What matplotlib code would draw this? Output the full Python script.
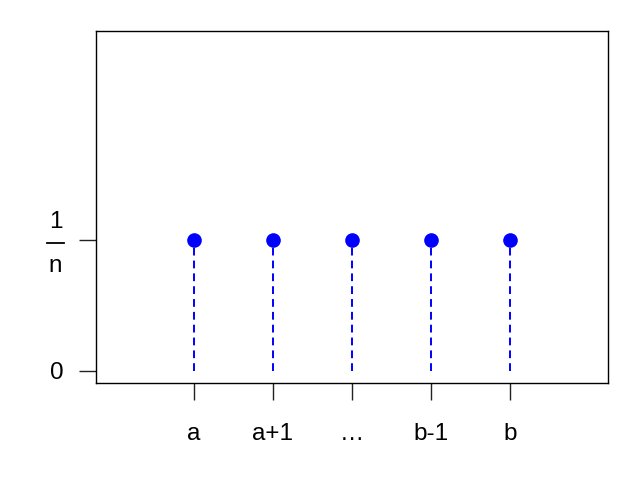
import matplotlib
matplotlib.use('Agg')
import matplotlib.pyplot as plt
from matplotlib.transforms import blended_transform_factory

# discrete uniform pmf on a, a+1, ..., b
positions = [1, 2, 3, 4, 5]
probs = [1, 1, 1, 1, 1]
x_labels = ['a', 'a+1', '…', 'b-1', 'b']
y_ticks = [0, 1]
y_labels = ['0', '']  # the 1/n label is drawn by hand below

plt.rcParams['font.family'] = ['Liberation Sans', 'DejaVu Sans']

fig = plt.figure(figsize=(6.4, 4.8), dpi=100)
ax = fig.add_axes([0.15, 0.2021, 0.80, 0.7333])

# dashed stems from 0 up to each point
ax.vlines(positions, 0, probs, colors='blue', linestyles=(0, (4, 2.6)), linewidth=1.4)
ax.plot(positions, probs, 'o', color='blue', markersize=9.5)

ax.set_xlim(-0.24, 6.24)
ax.set_ylim(-0.092, 2.6)

ax.set_xticks(positions)
ax.set_xticklabels(x_labels)
ax.set_yticks(y_ticks)
ax.set_yticklabels(y_labels)

ax.tick_params(axis='x', length=12.5, width=1, pad=16, labelsize=17.5, color='#222222')
ax.tick_params(axis='y', length=12.5, width=1, pad=11, labelsize=17.5, color='#222222')
for s in ax.spines.values():
    s.set_linewidth(1)

# stacked fraction 1/n next to the upper tick
tr = blended_transform_factory(ax.transAxes, ax.transData)
ax.text(-0.0791, 1.0916, '1', transform=tr, ha='center', va='baseline', fontsize=17.5)
ax.text(-0.0791, 0.756, 'n', transform=tr, ha='center', va='baseline', fontsize=17.5)
ax.plot([-0.0957, -0.0625], [0.977, 0.977], transform=tr, color='black',
        lw=1.3, clip_on=False)

fig.savefig('out.png')
